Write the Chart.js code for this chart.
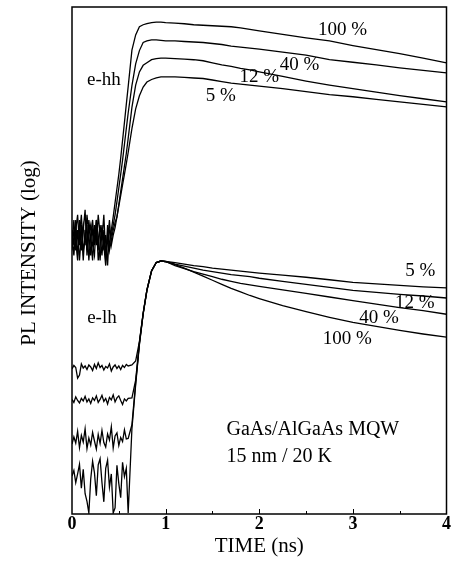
<!DOCTYPE html>
<html>
<head>
<meta charset="utf-8">
<script src="https://cdn.jsdelivr.net/npm/chart.js@4.4.1/dist/chart.umd.min.js"></script>
<style>
    html, body { margin: 0; padding: 0; background: #fff; }
    #wrap { width: 451px; height: 571px; }
</style>
</head>
<body>
<div id="wrap"><canvas id="plGraph" width="451" height="571"></canvas></div>
<script>
// time axis (ns), shared by all traces
const timeNs = [
    0.00, 0.02, 0.04, 0.06, 0.08, 0.10, 0.12, 0.14, 0.16, 0.18,
    0.20, 0.22, 0.24, 0.26, 0.28, 0.30, 0.32, 0.34, 0.36, 0.38,
    0.40, 0.42, 0.44, 0.46, 0.48, 0.50, 0.52, 0.54, 0.56, 0.58,
    0.60, 0.64, 0.68, 0.72, 0.76, 0.80, 0.85, 0.90, 0.95, 1.00,
    1.1, 1.2, 1.3, 1.4, 1.5, 1.6, 1.7, 1.8, 1.9, 2.0,
    2.25, 2.5, 2.75, 3.0, 3.25, 3.5, 3.75, 4.0
];
const xTicks = [0, 1, 2, 3, 4];

// e-hh transitions, log PL intensity (arb. units, stacked display)
const hh100 = [
    56, 53, 58, 51, 55, 59, 52, 54, 57, 50, 55, 58, 53, 56, 52, 57, 54, 59, 51, 55, 53, 56,
    58.6, 61.4, 64.2, 67.0, 70.2, 73.7, 77.2, 80.8, 84.3,
    91.5, 94.5, 96.1, 96.5, 96.7, 96.9, 97.0, 97.0, 96.9,
    96.8, 96.7, 96.5, 96.4, 96.3, 96.2, 96.1, 95.9, 95.6, 95.3,
    94.6, 93.9, 93.3, 92.4, 91.6, 90.8, 89.9, 89.0
];
const hh40 = [
    54, 58, 52, 56, 50, 55, 57, 53, 59, 55, 51, 56, 54, 58, 50, 53, 57, 52, 55, 49, 56, 55,
    57.0, 59.0, 61.6, 64.3, 67.0, 69.8, 72.9, 76.0, 79.1,
    84.5, 88.8, 91.4, 93.0, 93.3, 93.5, 93.5, 93.4, 93.3,
    93.3, 93.2, 93.1, 93.0, 92.8, 92.6, 92.3, 92.1, 91.9, 91.7,
    91.1, 90.5, 89.6, 89.1, 88.6, 88.0, 87.5, 87.0
];
const hh12 = [
    55, 51, 56, 59, 53, 57, 50, 56, 52, 58, 54, 50, 57, 53, 59, 55, 51, 56, 50, 57, 52, 54,
    56.0, 57.5, 58.6, 61.1, 63.6, 66.1, 68.6, 71.1, 74.1,
    80.2, 84.6, 87.2, 88.5, 89.0, 89.6, 89.8, 89.9, 89.9,
    89.8, 89.7, 89.6, 89.4, 89.0, 88.6, 88.3, 87.9, 87.6, 87.2,
    86.3, 85.4, 84.6, 83.9, 83.2, 82.5, 81.9, 81.3
];
const hh5 = [
    52, 56, 54, 50, 58, 52, 56, 60, 51, 55, 57, 53, 51, 58, 55, 50, 56, 53, 49, 54, 58, 53,
    55.0, 56.5, 58.6, 60.7, 62.8, 64.9, 67.0, 69.1, 71.3,
    76.0, 79.9, 82.5, 84.2, 85.2, 85.7, 86.0, 86.2, 86.2,
    86.2, 86.1, 86.0, 85.9, 85.6, 85.3, 85.0, 84.8, 84.6, 84.4,
    83.9, 83.3, 82.7, 82.3, 81.8, 81.3, 80.8, 80.3
];

// e-lh transitions
const lh5 = [
    28.6, 29.3, 28.9, 26.8, 27.4, 29.6, 28.8, 29.2, 28.5, 29.4, 29.0, 28.3, 29.5, 28.7, 29.8,
    28.9, 29.3, 28.4, 29.1, 28.8, 29.6, 28.2, 29.0, 29.4, 28.7, 29.2, 28.5, 29.3, 28.9, 29.5, 29.2,
    29.4, 30.2, 34.0, 39.6, 44.2, 48.0, 49.6, 49.9, 49.8,
    49.6, 49.3, 49.0, 48.8, 48.5, 48.3, 48.1, 47.9, 47.7, 47.5,
    47.1, 46.7, 46.2, 45.7, 45.4, 45.1, 44.8, 44.6
];
const lh12 = [
    22.6, 22.0, 23.1, 22.4, 21.9, 22.8, 22.3, 23.2, 22.1, 22.7, 21.8, 22.9, 22.4, 23.3, 22.0,
    22.6, 23.4, 22.2, 22.8, 21.7, 23.0, 22.5, 23.5, 22.1, 22.9, 23.3, 22.4, 21.6, 22.7, 22.3, 22.8,
    22.9, 26.4, 33.8, 39.6, 44.2, 48.0, 49.6, 49.9, 49.8,
    49.3, 48.9, 48.5, 48.1, 47.8, 47.5, 47.2, 47.0, 46.8, 46.5,
    45.9, 45.3, 44.7, 44.1, 43.7, 43.3, 43.0, 42.6
];
const lh40 = [
    13.8, 15.2, 14.0, 16.3, 13.1, 15.5, 14.2, 16.8, 12.9, 15.0, 13.6, 16.1, 14.4, 12.8, 15.7,
    13.9, 16.5, 14.1, 13.2, 15.8, 14.6, 17.2, 13.0, 15.4, 16.0, 13.5, 15.1, 14.3, 16.6, 14.8, 14.9,
    17.6, 25.9, 33.6, 39.5, 44.1, 48.0, 49.6, 49.9, 49.8,
    49.0, 48.4, 47.8, 47.3, 46.8, 46.3, 45.9, 45.5, 45.2, 44.9,
    44.2, 43.5, 42.8, 42.1, 41.4, 40.7, 40.1, 39.4
];
const lh100 = [
    7.5, 8.6, 6.2, 7.9, 9.8, 5.1, 8.8, 4.0, 2.5, 0.2, 6.9, 10.4, 8.1, 3.6, 9.7,
    10.9, 6.2, 2.4, 9.0, 10.6, 5.3, 7.9, 0.2, 1.2, 9.6, 6.0, 3.2, 10.2, 7.4, 9.0, 0.2,
    16.8, 25.5, 33.4, 39.4, 44.0, 47.9, 49.6, 49.9, 49.8,
    49.2, 48.5, 47.7, 46.9, 46.1, 45.3, 44.5, 43.8, 43.1, 42.5,
    41.1, 39.9, 38.8, 37.8, 37.0, 36.2, 35.5, 34.9
];

// text written inside the frame, placed in data coordinates
const curveLabels = [
    { text: "100 %", t: 2.89, v: 95.5 },
    { text: "40 %", t: 2.43, v: 88.6 },
    { text: "12 %", t: 2.00, v: 86.2 },
    { text: "5 %", t: 1.59, v: 82.4 },
    { text: "e-hh", t: 0.34, v: 85.6 },
    { text: "e-lh", t: 0.32, v: 38.7 },
    { text: "5 %", t: 3.72, v: 47.9 },
    { text: "12 %", t: 3.66, v: 41.6 },
    { text: "40 %", t: 3.28, v: 38.7 },
    { text: "100 %", t: 2.94, v: 34.5 }
];
const sampleText = ["GaAs/AlGaAs MQW", "15 nm / 20 K"];

const SERIF = "'Liberation Serif', 'DejaVu Serif', serif";

function toPoints(values) {
    return timeNs.map(function (t, i) {
        return { x: t, y: values[i] };
    });
}

function trace(values) {
    return {
        data: toPoints(values),
        borderColor: "#000",
        borderWidth: 1.3,
        pointRadius: 0,
        tension: 0,
        fill: false,
    };
}

// frame, inner ticks, labels and y title
const framePlugin = {
    id: "framePlugin",
    afterDatasetsDraw: function (chart) {
        const ctx = chart.ctx;
        const area = chart.chartArea;
        const xs = chart.scales.x;
        const ys = chart.scales.y;
        ctx.save();
        ctx.strokeStyle = "#000";
        ctx.lineWidth = 1.5;
        ctx.strokeRect(area.left, area.top, area.right - area.left, area.bottom - area.top);

        ctx.lineWidth = 1;
        for (let t = 0.5; t < 4; t += 0.5) {
            const px = Math.round(xs.getPixelForValue(t)) + 0.5;
            const len = Number.isInteger(t) ? 5 : 3;
            ctx.beginPath();
            ctx.moveTo(px, area.bottom);
            ctx.lineTo(px, area.bottom - len);
            ctx.stroke();
        }

        ctx.fillStyle = "#000";
        ctx.font = "19px " + SERIF;
        ctx.textAlign = "center";
        ctx.textBaseline = "middle";
        curveLabels.forEach(function (lab) {
            ctx.fillText(lab.text, xs.getPixelForValue(lab.t), ys.getPixelForValue(lab.v));
        });

        ctx.font = "20px " + SERIF;
        ctx.textAlign = "left";
        ctx.fillText(sampleText[0], xs.getPixelForValue(1.65), ys.getPixelForValue(16.6));
        ctx.fillText(sampleText[1], xs.getPixelForValue(1.65), ys.getPixelForValue(11.2));

        // y axis title
        ctx.translate(29, 253);
        ctx.rotate(-Math.PI / 2);
        ctx.textAlign = "center";
        ctx.font = "21px " + SERIF;
        ctx.fillText("PL INTENSITY (log)", 0, 0);
        ctx.restore();
    },
};

const config = {
    type: "line",
    data: {
        datasets: [
            trace(hh100), trace(hh40), trace(hh12), trace(hh5),
            trace(lh5), trace(lh12), trace(lh40), trace(lh100),
        ],
    },
    options: {
        responsive: false,
        animation: false,
        layout: {
            padding: { left: 72, right: 3, top: 7, bottom: 0 },
        },
        plugins: {
            legend: { display: false },
            tooltip: { enabled: false },
        },
        scales: {
            x: {
                type: "linear",
                min: 0,
                max: 4,
                afterFit: function (scale) {
                    scale.height = 57;
                },
                afterBuildTicks: function (scale) {
                    scale.ticks = xTicks.map(function (v) {
                        return { value: v };
                    });
                },
                grid: { display: false, drawTicks: false },
                border: { display: false },
                ticks: {
                    color: "#000",
                    padding: 0,
                    maxRotation: 0,
                    font: { family: SERIF, size: 18, weight: "bold" },
                },
                title: {
                    display: true,
                    text: "TIME (ns)",
                    color: "#000",
                    padding: { top: 0, bottom: 12 },
                    font: { family: SERIF, size: 21 },
                },
            },
            y: {
                display: false,
                min: 0,
                max: 100,
            },
        },
    },
    plugins: [framePlugin],
};

new Chart(document.getElementById("plGraph"), config);
</script>
</body>
</html>
